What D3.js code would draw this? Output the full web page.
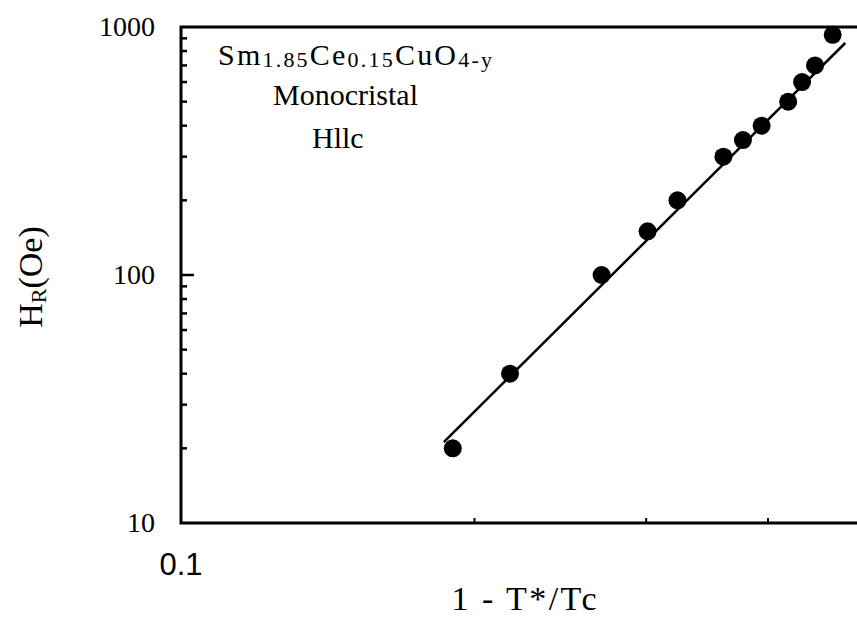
<!DOCTYPE html>
<html>
<head>
<meta charset="utf-8">
<script src="https://cdn.jsdelivr.net/npm/d3@7"></script>
<style>
  html, body { margin: 0; padding: 0; background: #fff; }
  svg { display: block; }
  text { font-family: "Liberation Serif", "Times New Roman", serif; fill: #000; }
</style>
</head>
<body>
<script>
// ---- data ----
const pointX = [0.190, 0.2175, 0.270, 0.301, 0.323, 0.360, 0.377, 0.394, 0.4195, 0.4335, 0.447, 0.466];
const pointY = [20, 40, 100, 150, 200, 300, 350, 400, 500, 600, 700, 930];
const fitX = [0.186, 0.480];
const fitY = [21.2, 862];
const yTickLabels = [10, 100, 1000];
const xTickLabels = [0.1];
const yMinorTicks = [20, 30, 40, 50, 60, 70, 80, 90, 200, 300, 400, 500, 600, 700, 800, 900];
const xMinorTicks = [0.2, 0.3, 0.4];

const W = 857, H = 620;
const mLeft = 181, mTop = 27, mBottom = 523, mRight = 862.5;

const svg = d3.select("body").append("svg").attr("width", W).attr("height", H);

const x = d3.scaleLog().domain([0.1, 0.5]).range([mLeft, mRight]);
const y = d3.scaleLog().domain([10, 1000]).range([mBottom, mTop]);

// minor ticks (inward)
svg.append("g").selectAll("line").data(yMinorTicks).join("line")
  .attr("x1", mLeft).attr("x2", mLeft + 6)
  .attr("y1", d => y(d)).attr("y2", d => y(d))
  .attr("stroke", "#000").attr("stroke-width", 2.5);
svg.append("g").selectAll("line").data([100]).join("line")
  .attr("x1", mLeft).attr("x2", mLeft + 13)
  .attr("y1", d => y(d)).attr("y2", d => y(d))
  .attr("stroke", "#000").attr("stroke-width", 2.5);
svg.append("g").selectAll("line").data(xMinorTicks).join("line")
  .attr("x1", d => x(d)).attr("x2", d => x(d))
  .attr("y1", mBottom).attr("y2", mBottom - 5)
  .attr("stroke", "#000").attr("stroke-width", 2);

// frame
svg.append("path")
  .attr("d", `M${mRight},${mTop}H${mLeft}V${mBottom}H${mRight}`)
  .attr("fill", "none").attr("stroke", "#000").attr("stroke-width", 3);

// tick labels
svg.append("g").selectAll("text").data(yTickLabels).join("text")
  .attr("x", 155).attr("y", d => y(d) + 9)
  .attr("text-anchor", "end").attr("font-size", 28)
  .text(d => d);
svg.append("g").selectAll("text").data(xTickLabels).join("text")
  .attr("x", d => x(d)).attr("y", 575)
  .attr("text-anchor", "middle").attr("font-size", 31)
  .style("font-family", "'Liberation Sans', Arial, sans-serif")
  .text(d => d);

// fit line
svg.append("path")
  .datum(d3.zip(fitX, fitY))
  .attr("d", d3.line().x(d => x(d[0])).y(d => y(d[1])))
  .attr("fill", "none").attr("stroke", "#000").attr("stroke-width", 2.5);

// points
svg.append("g").selectAll("circle").data(d3.zip(pointX, pointY)).join("circle")
  .attr("cx", d => x(d[0])).attr("cy", d => y(d[1])).attr("r", 9)
  .attr("fill", "#000");

// annotation
const f = svg.append("text").attr("x", 218).attr("y", 65).attr("font-size", 30)
  .attr("textLength", 274).attr("lengthAdjust", "spacing");
const parts = [["Sm", false], ["1.85", true], ["Ce", false], ["0.15", true], ["CuO", false], ["4-y", true]];
parts.forEach(([t, sub], i) => {
  f.append("tspan").attr("font-size", sub ? 22 : 30)
    .attr("dy", i === 0 ? 0 : (sub ? 2 : -2)).text(t);
});
svg.append("text").attr("x", 273).attr("y", 105).attr("font-size", 30).text("Monocristal");
svg.append("text").attr("x", 312).attr("y", 148).attr("font-size", 30).text("Hllc");

// axis titles
svg.append("text").attr("x", 524).attr("y", 610).attr("text-anchor", "middle")
  .attr("font-size", 34).attr("textLength", 145).attr("lengthAdjust", "spacing")
  .text("1 - T*/Tc");
const yl = svg.append("text").attr("transform", "translate(42,277) rotate(-90)")
  .attr("text-anchor", "middle").attr("font-size", 34);
yl.append("tspan").text("H");
yl.append("tspan").attr("font-size", 22).attr("dy", 4).text("R");
yl.append("tspan").attr("dy", -4).text("(Oe)");
</script>
</body>
</html>
